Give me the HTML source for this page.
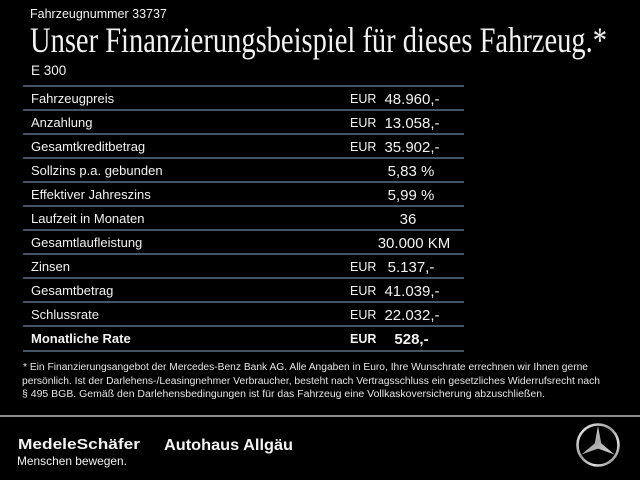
<!DOCTYPE html>
<html>
<head>
<meta charset="utf-8">
<style>
html,body{margin:0;padding:0;background:#000;}
body{width:640px;height:480px;overflow:hidden;}
svg{display:block;}
.s{font-family:"Liberation Sans",sans-serif;fill:#f2f2f2;}
.lab{font-size:13px;}
.eur{font-size:12.5px;}
.val{font-size:15px;text-anchor:middle;}
.b{font-weight:bold;}
.fn{font-family:"Liberation Sans",sans-serif;font-size:10px;fill:#e6e6e6;}
</style>
</head>
<body>
<svg width="640" height="480" viewBox="0 0 640 480" xmlns="http://www.w3.org/2000/svg">
<defs>
<linearGradient id="silver" x1="0" y1="0" x2="1" y2="1">
<stop offset="0" stop-color="#f4f4f4"/>
<stop offset="0.45" stop-color="#9a9a9a"/>
<stop offset="0.7" stop-color="#e0e0e0"/>
<stop offset="1" stop-color="#6e6e6e"/>
</linearGradient>
<linearGradient id="starg" x1="0" y1="0" x2="1" y2="1">
<stop offset="0" stop-color="#ffffff"/>
<stop offset="0.5" stop-color="#a8a8a8"/>
<stop offset="1" stop-color="#d8d8d8"/>
</linearGradient>
</defs>
<rect width="640" height="480" fill="#000"/>

<text class="s" x="30" y="18" font-size="12.5">Fahrzeugnummer 33737</text>
<text x="30" y="52" font-family="Liberation Serif, serif" font-size="36" fill="#f2f2f2" textLength="577" lengthAdjust="spacingAndGlyphs">Unser Finanzierungsbeispiel für dieses Fahrzeug.*</text>
<text class="s" x="31" y="75" font-size="13.5">E 300</text>

<g stroke="#5d6f80" stroke-width="1.5">
<line x1="23" y1="86" x2="464" y2="86"/>
<line x1="23" y1="110" x2="464" y2="110"/>
<line x1="23" y1="134" x2="464" y2="134"/>
<line x1="23" y1="158" x2="464" y2="158"/>
<line x1="23" y1="182" x2="464" y2="182"/>
<line x1="23" y1="206" x2="464" y2="206"/>
<line x1="23" y1="230" x2="464" y2="230"/>
<line x1="23" y1="254" x2="464" y2="254"/>
<line x1="23" y1="278" x2="464" y2="278"/>
<line x1="23" y1="302" x2="464" y2="302"/>
<line x1="23" y1="326" x2="464" y2="326"/>
<line x1="23" y1="351" x2="464" y2="351"/>
</g>

<text class="s lab" x="31" y="103">Fahrzeugpreis</text>
<text class="s eur" x="350" y="103">EUR</text>
<text class="s val" x="412" y="104">48.960,-</text>

<text class="s lab" x="31" y="127">Anzahlung</text>
<text class="s eur" x="350" y="127">EUR</text>
<text class="s val" x="412" y="128">13.058,-</text>

<text class="s lab" x="31" y="151">Gesamtkreditbetrag</text>
<text class="s eur" x="350" y="151">EUR</text>
<text class="s val" x="412" y="152">35.902,-</text>

<text class="s lab" x="31" y="175">Sollzins p.a. gebunden</text>
<text class="s val" x="411" y="176">5,83 %</text>

<text class="s lab" x="31" y="199">Effektiver Jahreszins</text>
<text class="s val" x="411" y="200">5,99 %</text>

<text class="s lab" x="31" y="223">Laufzeit in Monaten</text>
<text class="s val" x="408" y="224">36</text>

<text class="s lab" x="31" y="247">Gesamtlaufleistung</text>
<text class="s val" x="414" y="248">30.000 KM</text>

<text class="s lab" x="31" y="271">Zinsen</text>
<text class="s eur" x="350" y="271">EUR</text>
<text class="s val" x="411" y="272">5.137,-</text>

<text class="s lab" x="31" y="295">Gesamtbetrag</text>
<text class="s eur" x="350" y="295">EUR</text>
<text class="s val" x="412" y="296">41.039,-</text>

<text class="s lab" x="31" y="319">Schlussrate</text>
<text class="s eur" x="350" y="319">EUR</text>
<text class="s val" x="412" y="320">22.032,-</text>

<text class="s lab b" x="31" y="343">Monatliche Rate</text>
<text class="s eur b" x="350" y="343">EUR</text>
<text class="s val b" x="411.5" y="344">528,-</text>

<text class="fn" x="23" y="370" textLength="565" lengthAdjust="spacingAndGlyphs">* Ein Finanzierungsangebot der Mercedes-Benz Bank AG. Alle Angaben in Euro, Ihre Wunschrate errechnen wir Ihnen gerne</text>
<text class="fn" x="22" y="384" textLength="578" lengthAdjust="spacingAndGlyphs">persönlich. Ist der Darlehens-/Leasingnehmer Verbraucher, besteht nach Vertragsschluss ein gesetzliches Widerrufsrecht nach</text>
<text class="fn" x="22" y="397" textLength="523" lengthAdjust="spacingAndGlyphs">§ 495 BGB. Gemäß den Darlehensbedingungen ist für das Fahrzeug eine Vollkaskoversicherung abzuschließen.</text>

<rect x="0" y="415" width="640" height="2" fill="#8a8a8a"/>

<text class="s b" x="18" y="449" font-size="15" textLength="122" lengthAdjust="spacingAndGlyphs">MedeleSchäfer</text>
<text class="s" x="17" y="465" font-size="12" fill="#dcdcdc" textLength="110" lengthAdjust="spacingAndGlyphs">Menschen bewegen.</text>
<text class="s b" x="164" y="450" font-size="16" textLength="129" lengthAdjust="spacingAndGlyphs">Autohaus Allgäu</text>

<circle cx="598" cy="445" r="20.5" fill="none" stroke="url(#silver)" stroke-width="2.6"/>
<polygon fill="url(#starg)" points="598,426 601.2,443.2 614.5,454.5 598,448.6 581.5,454.5 594.8,443.2"/>
</svg>
</body>
</html>
